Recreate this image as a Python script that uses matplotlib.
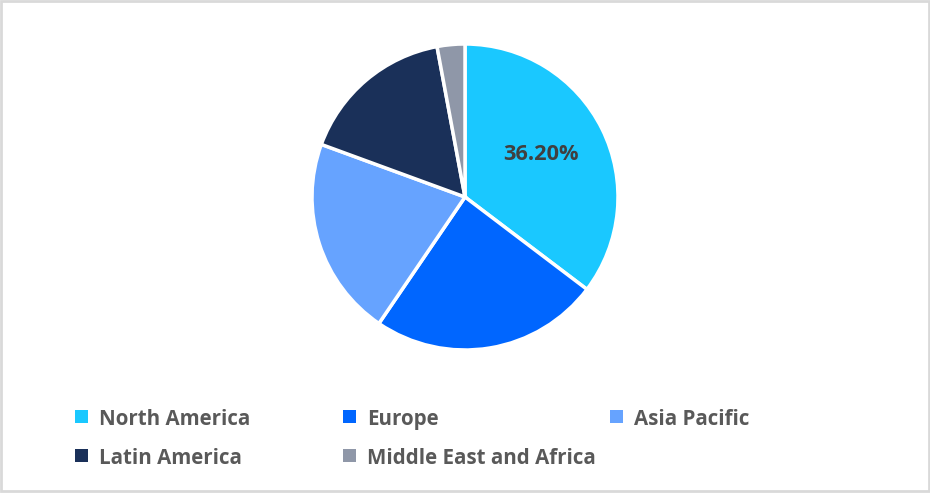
import matplotlib
matplotlib.use('Agg')
import matplotlib.pyplot as plt
from matplotlib.patches import Rectangle

regions = ['North America', 'Europe', 'Asia Pacific', 'Latin America', 'Middle East and Africa']
shares = [36.2, 24.8, 21.6, 16.9, 3.0]
colors = ['#1AC8FF', '#0066FF', '#66A3FF', '#1A3059', '#8F97A8']

W, H = 930, 493
plt.rcParams['font.family'] = ['Open Sans', 'DejaVu Sans']

fig = plt.figure(figsize=(W / 100, H / 100), dpi=100)

# full size overlay in pixel coords for the frame, legend and label
bg = fig.add_axes([0, 0, 1, 1], zorder=2)
bg.set_xlim(0, W)
bg.set_ylim(H, 0)
bg.axis('off')
bg.add_patch(Rectangle((1, 1), W - 2, H - 3, fill=False, edgecolor='#D9D9D9', linewidth=2))

# pie centre (465, 197)
r = 153
ax = fig.add_axes([(465 - r) / W, 1 - (197 + r) / H, 2 * r / W, 2 * r / H], zorder=1)
wedges, _ = ax.pie(shares, colors=colors, startangle=90, counterclock=False, radius=1,
                   wedgeprops={'edgecolor': 'white', 'linewidth': 2.5})
ax.set_xlim(-1, 1)
ax.set_ylim(-1, 1)
for w in wedges:
    w.set_clip_on(False)

bg.text(540.5, 159.5, '36.20%', color='#404040', fontsize=15.7, fontweight='bold',
        ha='center', va='baseline')

legend_x = [75, 343, 610, 75, 343]
legend_y = [410, 410, 410, 449, 449]
for name, c, x, y in zip(regions, colors, legend_x, legend_y):
    bg.add_patch(Rectangle((x, y), 13, 13, facecolor=c, edgecolor='none'))
    bg.text(x + 24, y + 15, name, color='#595959', fontsize=14.8, fontweight='bold',
            ha='left', va='baseline')

fig.savefig('out.png', dpi=100)
